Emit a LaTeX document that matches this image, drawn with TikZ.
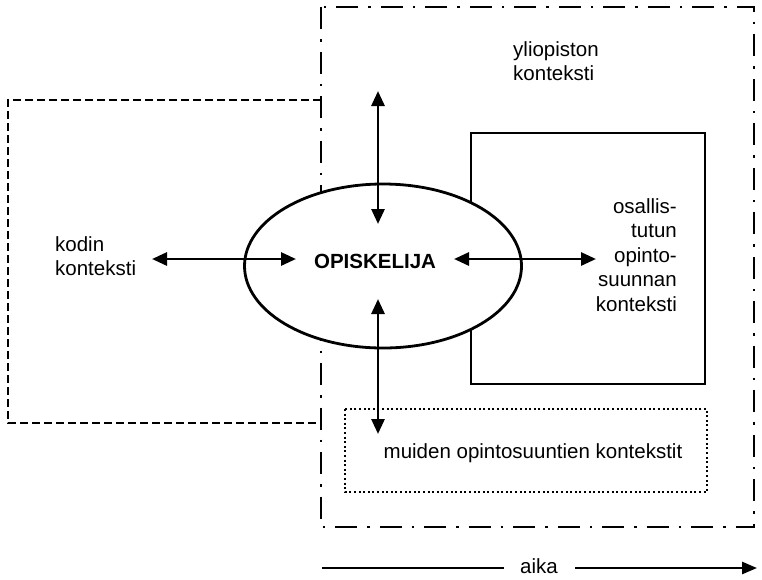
\documentclass[tikz,border=0pt]{standalone}
\usepackage{fontspec}
\setmainfont{Liberation Sans}
\usetikzlibrary{arrows.meta,shapes.geometric}
\begin{document}
\begin{tikzpicture}[x=1pt,y=-1pt,
  lbl/.style={inner sep=0pt,font=\fontsize{20.5}{24.5}\selectfont},
  dashdot/.style={line width=2.6pt,dash pattern=on 22pt off 10pt on 2.5pt off 10pt},
  dashbox/.style={line width=2.6pt,dash pattern=on 8pt off 4pt},
  dotbox/.style={line width=2.4pt,dash pattern=on 2pt off 2.6pt},
  solidbox/.style={line width=2.6pt},
  conn/.style={line width=2.8pt,{Triangle[length=15pt,width=13pt]}-{Triangle[length=15pt,width=13pt]}},
  timearrow/.style={line width=2.6pt,-{Triangle[length=15pt,width=12pt]}}]
\useasboundingbox (0,0) rectangle (762,579);
% university context
\draw[dashdot] (321,7) rectangle (754,527);
% home context
\draw[dashbox] (321,100) -- (8,100) -- (8,423) -- (321,423);
% participated study line context
\draw[solidbox] (471,133) rectangle (705,384);
% other study lines
\draw[dotbox] (345,409) rectangle (707,492);
% student ellipse
\node[draw,fill=white,ellipse,line width=2.8pt,minimum width=277pt,minimum height=164pt,inner sep=0pt] (ell) at (383,266) {};
\node[lbl,font=\fontsize{20.5}{24.5}\selectfont\bfseries] (opis) at (375,261) {OPISKELIJA};
% labels
\node[lbl,anchor=west,align=left] (yliop) at (513,61) {yliopiston\\konteksti};
\node[lbl,anchor=west,align=left] (kodin) at (55,256) {kodin\\konteksti};
\node[lbl,anchor=east,align=right] (osal) at (677,255) {osallis-\\tutun\\opinto-\\suunnan\\konteksti};
\node[lbl] (muid) at (533,453) {muiden opintosuuntien kontekstit};
\node[lbl] (aika) at (539,566) {aika};
% arrow end points
\coordinate (tA) at (378,91);
\coordinate (tB) at (378,224);
\coordinate (bA) at (378,299);
\coordinate (bB) at (378,434);
\coordinate (lA) at (152,259);
\coordinate (lB) at (296,259);
\coordinate (rA) at (454,259);
\coordinate (rB) at (596,259);
\coordinate (aS) at (322,568);
\coordinate (aE) at (757,568);
\draw[conn] (tA) -- (tB);
\draw[conn] (bA) -- (bB);
\draw[conn] (lA) -- (lB);
\draw[conn] (rA) -- (rB);
\draw[line width=2.6pt] (aS) -- ([xshift=-16pt]aika.west |- aS);
\draw[timearrow] ([xshift=17pt]aika.east |- aE) -- (aE);
\end{tikzpicture}
\end{document}
